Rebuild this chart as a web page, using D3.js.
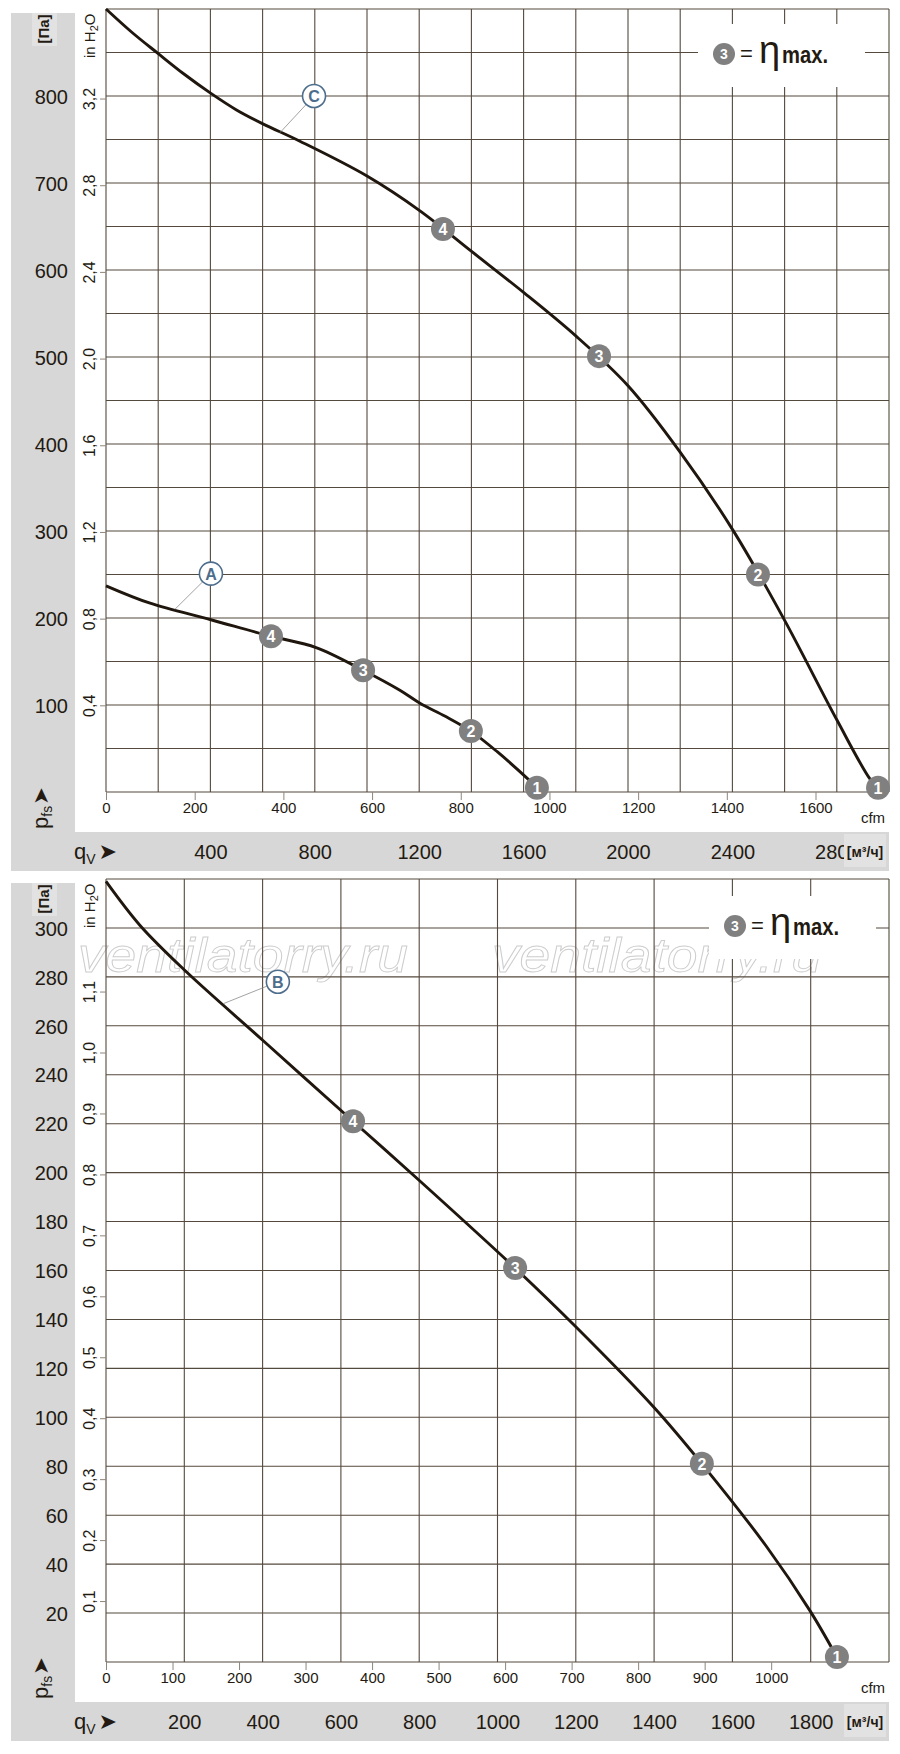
<!DOCTYPE html>
<html>
<head>
<meta charset="utf-8">
<script src="https://cdn.jsdelivr.net/npm/d3@7"></script>
<style>
  body { margin: 0; background: #fff; }
  svg text { font-family: "Liberation Sans", Arial, sans-serif; fill: #231a12; }
</style>
</head>
<body>
<svg id="chart" width="900" height="1754"></svg>
<script>
// ---- data: [flow m3/h, pressure Pa] ----
const curveC = [[0,900],[100,873],[199,849],[300,825],[402,803],[500,784],[601,768],[743,748],
  [1000,708],[1203,668],[1402,621],[1601,574],[1801,524],[2000,467],[2199,391],[2402,301],
  [2597,199],[2800,83],[2927,15],[2958,5]];
const curveA = [[0,237],[169,217],[402,198],[632,179],[805,166],[985,140],[1126,117],
  [1203,102],[1300,87],[1398,70],[1500,46],[1613,16],[1651,5]];
const curveB = [[0,319],[87,301],[199,283],[401,254],[631,221],[799,197],[1045,161],
  [1200,137],[1400,104],[1522,81],[1688,47],[1798,21],[1867,2]];

// operating points (flow, pressure, number)
const pointsC = [[1291,647,"4"],[1889,501,"3"],[2498,250,"2"],[2958,5,"1"]];
const pointsA = [[632,179,"4"],[985,140,"3"],[1398,70,"2"],[1651,5,"1"]];
const pointsB = [[631,221,"4"],[1045,161,"3"],[1522,81,"2"],[1867,2,"1"]];

// curve name tags: [tag flow, tag pressure, curve flow, curve pressure, letter]
const tagsTop = [[797,800,667,758,"C"],[402,251,264,210,"A"]];
const tagsBottom = [[439,278,299,269,"B"]];

// tick labels
const topPaTicks = [100,200,300,400,500,600,700,800];
const topInTicks = [0.4,0.8,1.2,1.6,2.0,2.4,2.8,3.2];
const topCfmTicks = [0,200,400,600,800,1000,1200,1400,1600];
const topM3Ticks = [400,800,1200,1600,2000,2400,2800];
const botPaTicks = [20,40,60,80,100,120,140,160,180,200,220,240,260,280,300];
const botInTicks = [0.1,0.2,0.3,0.4,0.5,0.6,0.7,0.8,0.9,1.0,1.1];
const botCfmTicks = [0,100,200,300,400,500,600,700,800,900,1000];
const botM3Ticks = [200,400,600,800,1000,1200,1400,1600,1800];

const svg = d3.select('#chart');
const fmtIn = v => d3.format('.1f')(v).replace('.', ',');
const fmtInt = d3.format('d');

function drawPanel(cfg) {
  const g = svg.append('g').attr('transform', `translate(0,${cfg.offset})`);

  // grey label bands
  g.append('rect').attr('x', 11).attr('y', 13).attr('width', 64).attr('height', 858).attr('fill', '#d7d7d7');
  g.append('rect').attr('x', 11).attr('y', 832).attr('width', 878).attr('height', 39).attr('fill', '#d7d7d7');

  const x = d3.scaleLinear().domain([0, cfg.qMax]).range([106, 889]);
  const y = d3.scaleLinear().domain([0, cfg.pMax]).range([792, 9]);
  const xCfm = d3.scaleLinear().domain([0, cfg.qMax / 1.699]).range([106, 889]);
  const yIn = d3.scaleLinear().domain([0, cfg.pMax / 249.089]).range([792, 9]);

  // watermark
  if (cfg.watermark) {
    [78, 492].forEach(wx => {
      g.append('text').attr('x', wx).attr('y', 102)
        .attr('font-size', 48).attr('font-style', 'italic')
        .attr('textLength', 330).attr('lengthAdjust', 'spacingAndGlyphs')
        .style('fill', 'none').style('stroke', '#cdcdcd').style('stroke-width', 0.9)
        .text('ventilatorry.ru');
    });
  }

  // grid
  const grid = g.append('g').attr('stroke', '#54493d').attr('stroke-width', 1.1);
  grid.selectAll('line.v').data(d3.range(0, cfg.qMax + 1, cfg.qStep)).enter().append('line')
    .attr('x1', d => x(d)).attr('x2', d => x(d)).attr('y1', 9).attr('y2', 792);
  grid.selectAll('line.h').data(d3.range(0, cfg.pMax + 1, cfg.pStep)).enter().append('line')
    .attr('y1', d => y(d)).attr('y2', d => y(d)).attr('x1', 106).attr('x2', 889);

  // legend box
  const lx = 724 + cfg.legendDx, ly = 54 + cfg.legendDy;
  g.append('rect').attr('x', lx - 26).attr('y', ly - 30).attr('width', 167).attr('height', 63).attr('fill', '#fff');
  g.append('circle').attr('cx', lx).attr('cy', ly).attr('r', 11).attr('fill', '#808080');
  g.append('text').attr('x', lx).attr('y', ly + 5).attr('text-anchor', 'middle')
    .attr('font-size', 14).attr('font-weight', 'bold').style('fill', '#fff').text('3');
  g.append('text').attr('x', lx + 16).attr('y', ly + 7).attr('font-size', 22).text('=');
  g.append('text').attr('x', lx + 35).attr('y', ly + 9).attr('font-size', 38).text('η');
  g.append('text').attr('x', lx + 58).attr('y', ly + 9).attr('font-size', 23).attr('font-weight', 'bold')
    .attr('textLength', 46).attr('lengthAdjust', 'spacingAndGlyphs').text('max.');

  // Pa axis labels
  const aPa = g.append('g').attr('transform', 'translate(68,0)')
    .call(d3.axisLeft(y).tickValues(cfg.paTicks).tickSize(0).tickPadding(0).tickFormat(fmtInt));
  aPa.select('.domain').remove();
  aPa.selectAll('text').attr('font-size', 20).attr('dy', '0.36em');

  // in H2O axis
  const aIn = g.append('g').attr('transform', 'translate(106,0)')
    .call(d3.axisLeft(yIn).tickValues(cfg.inTicks).tickSize(6).tickFormat(fmtIn));
  aIn.select('.domain').remove();
  aIn.selectAll('line').attr('stroke', '#8d867c');
  aIn.selectAll('text').attr('transform', 'rotate(-90)').attr('x', 0).attr('y', -11)
    .attr('dy', 0).attr('text-anchor', 'middle').attr('font-size', 16);

  // cfm axis
  const aCfm = g.append('g').attr('transform', 'translate(0,792)')
    .call(d3.axisBottom(xCfm).tickValues(cfg.cfmTicks).tickSize(8).tickPadding(2).tickFormat(fmtInt));
  aCfm.select('.domain').remove();
  aCfm.selectAll('line').attr('stroke', '#8d867c');
  aCfm.selectAll('text').attr('font-size', 15);
  g.append('text').attr('x', 873).attr('y', 823).attr('text-anchor', 'middle').attr('font-size', 15).text('cfm');

  // m3/h axis
  const aM3 = g.append('g').attr('transform', 'translate(0,852)')
    .call(d3.axisBottom(x).tickValues(cfg.m3Ticks).tickSize(0).tickPadding(0).tickFormat(fmtInt));
  aM3.select('.domain').remove();
  aM3.selectAll('text').attr('font-size', 20).attr('dy', '0.36em');
  g.append('rect').attr('x', 844).attr('y', 834).attr('width', 42).attr('height', 33).attr('fill', '#e2e2e2');
  g.append('text').attr('x', 865).attr('y', 857).attr('text-anchor', 'middle')
    .attr('font-size', 14).attr('font-weight', 'bold').text('[м³/ч]');

  // qV label
  const q = g.append('text').attr('x', 74).attr('y', 859);
  q.append('tspan').attr('font-size', 22).text('q');
  q.append('tspan').attr('font-size', 14).attr('dy', 5).text('V');
  q.append('tspan').attr('font-size', 22).attr('dy', -5).attr('dx', 3)
    .style('font-family', '"DejaVu Sans"').text('➤');

  // p_fs label
  const p = g.append('text').attr('transform', 'translate(48,829) rotate(-90)');
  p.append('tspan').attr('font-size', 22).text('p');
  p.append('tspan').attr('font-size', 14).attr('dy', 4).text('fs');
  p.append('tspan').attr('font-size', 21).attr('dy', -4).attr('dx', 1)
    .style('font-family', '"DejaVu Sans"').text('➤');

  // [Pa] and in H2O
  g.append('rect').attr('x', 32).attr('y', 13).attr('width', 25).attr('height', 33).attr('fill', '#e2e2e2');
  g.append('text').attr('transform', 'translate(49,29) rotate(-90)').attr('text-anchor', 'middle')
    .attr('font-size', 15).attr('font-weight', 'bold').text('[Па]');
  const h = g.append('text').attr('transform', 'translate(95,58) rotate(-90)').attr('font-size', 15);
  h.append('tspan').text('in H');
  h.append('tspan').attr('font-size', 11).attr('dy', 3).text('2');
  h.append('tspan').attr('dy', -3).text('O');

  // curves
  const line = d3.line().x(d => x(d[0])).y(d => y(d[1])).curve(d3.curveCatmullRom.alpha(0.5));
  cfg.curves.forEach(c => {
    g.append('path').datum(c).attr('d', line)
      .attr('fill', 'none').attr('stroke', '#1f160d').attr('stroke-width', 2.9);
  });

  // curve tags
  cfg.tags.forEach(t => {
    g.append('line').attr('x1', x(t[2])).attr('y1', y(t[3])).attr('x2', x(t[0])).attr('y2', y(t[1]))
      .attr('stroke', '#8a8a8a').attr('stroke-width', 0.8);
    g.append('circle').attr('cx', x(t[0])).attr('cy', y(t[1])).attr('r', 11.5)
      .attr('fill', '#fff').attr('stroke', '#4d6d8c').attr('stroke-width', 1.6);
    g.append('text').attr('x', x(t[0])).attr('y', y(t[1]) + 6).attr('text-anchor', 'middle')
      .attr('font-size', 16).attr('font-weight', 'bold').style('fill', '#4d6d8c').text(t[4]);
  });

  // operating points
  cfg.points.forEach(pt => {
    g.append('circle').attr('cx', x(pt[0])).attr('cy', y(pt[1])).attr('r', 12).attr('fill', '#808080');
    g.append('text').attr('x', x(pt[0])).attr('y', y(pt[1]) + 6).attr('text-anchor', 'middle')
      .attr('font-size', 16).attr('font-weight', 'bold').style('fill', '#fff').text(pt[2]);
  });
}

drawPanel({
  offset: 0, qMax: 3000, qStep: 200, pMax: 900, pStep: 50,
  paTicks: topPaTicks, inTicks: topInTicks, cfmTicks: topCfmTicks, m3Ticks: topM3Ticks,
  curves: [curveC, curveA], points: pointsC.concat(pointsA), tags: tagsTop,
  legendDx: 0, legendDy: 0, watermark: false
});

drawPanel({
  offset: 870, qMax: 2000, qStep: 200, pMax: 320, pStep: 20,
  paTicks: botPaTicks, inTicks: botInTicks, cfmTicks: botCfmTicks, m3Ticks: botM3Ticks,
  curves: [curveB], points: pointsB, tags: tagsBottom,
  legendDx: 11, legendDy: 2, watermark: true
});
</script>
</body>
</html>
